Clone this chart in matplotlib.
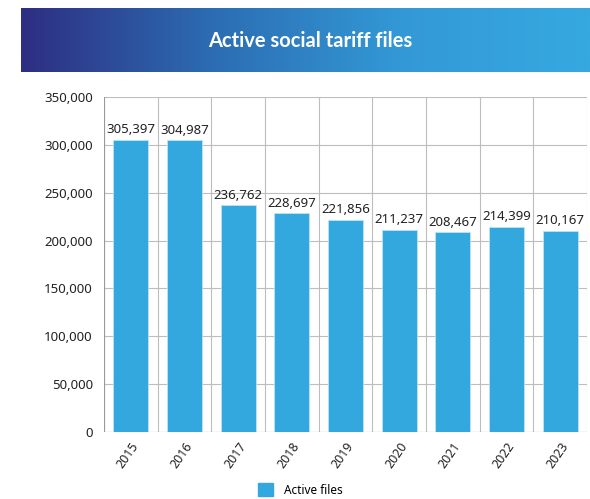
import matplotlib.pyplot as plt
import numpy as np
from matplotlib.colors import LinearSegmentedColormap
from matplotlib.patches import Patch

plt.rcParams['font.family'] = ['Noto Sans', 'DejaVu Sans']

# data
years = ['2015', '2016', '2017', '2018', '2019', '2020', '2021', '2022', '2023']
active_files = [305397, 304987, 236762, 228697, 221856, 211237, 208467, 214399, 210167]
y_ticks = [0, 50000, 100000, 150000, 200000, 250000, 300000, 350000]

bar_color = '#33a8df'

fig = plt.figure(figsize=(5.9, 4.99), dpi=100)

# header banner with gradient
banner = fig.add_axes([21 / 590, 1 - 72 / 499, 1 - 21 / 590, 64 / 499])
cmap = LinearSegmentedColormap.from_list('hdr', ['#2e2e82', '#2c6cb2', '#3399d6', '#36a9e1'])
banner.imshow(np.linspace(0, 1, 256).reshape(1, -1), aspect='auto', cmap=cmap,
              extent=[0, 1, 0, 1])
banner.set_axis_off()
fig.text(310 / 590, 1 - 41 / 499, 'Active social tariff files', color='white',
         fontsize=14.5, fontweight='bold', family=['Lato', 'DejaVu Sans'],
         ha='center', va='center')

# chart
ax = fig.add_axes([104 / 590, 1 - 432 / 499, 483 / 590, 335 / 499])
x = np.arange(len(years))
bars = ax.bar(x, active_files, width=0.65, color=bar_color, edgecolor='#bfe3f5',
              linewidth=0.6, zorder=3)
for xi, v in zip(x, active_files):
    ax.text(xi, v + 3500, f'{v:,}', ha='center', va='bottom', fontsize=9.5, color='#222222')

ax.set_xlim(-0.5, len(years) - 0.5)
ax.set_ylim(0, 350000)
ax.set_yticks(y_ticks)
ax.set_yticklabels([f'{t:,}' for t in y_ticks], fontsize=9.5, color='#222222')
ax.set_xticks(x)
ax.set_xticklabels(years, rotation=55, ha='right', rotation_mode='anchor',
                   fontsize=9, color='#222222')
ax.tick_params(length=0, pad=8)
ax.tick_params(axis='x', pad=6)

# grid lines: horizontal at ticks, vertical at category boundaries
ax.grid(axis='y', color='#bdbdbd', linewidth=0.8, zorder=0)
for b in np.arange(-0.5, len(years), 1.0):
    ax.axvline(b, color='#bdbdbd', linewidth=0.8, zorder=0)
for s in ax.spines.values():
    s.set_visible(False)
ax.axhline(0, color='#999999', linewidth=0.8, zorder=4)
ax.axvline(-0.5, color='#999999', linewidth=0.8, zorder=4)

fig.legend(handles=[Patch(facecolor=bar_color, edgecolor=bar_color, label='Active files')],
           loc='center', bbox_to_anchor=(300 / 590, 1 - 490 / 499), frameon=False,
           fontsize=8.5, handlelength=1.3, handleheight=1.3, handletextpad=0.9)

fig.savefig('out.png', dpi=100)
